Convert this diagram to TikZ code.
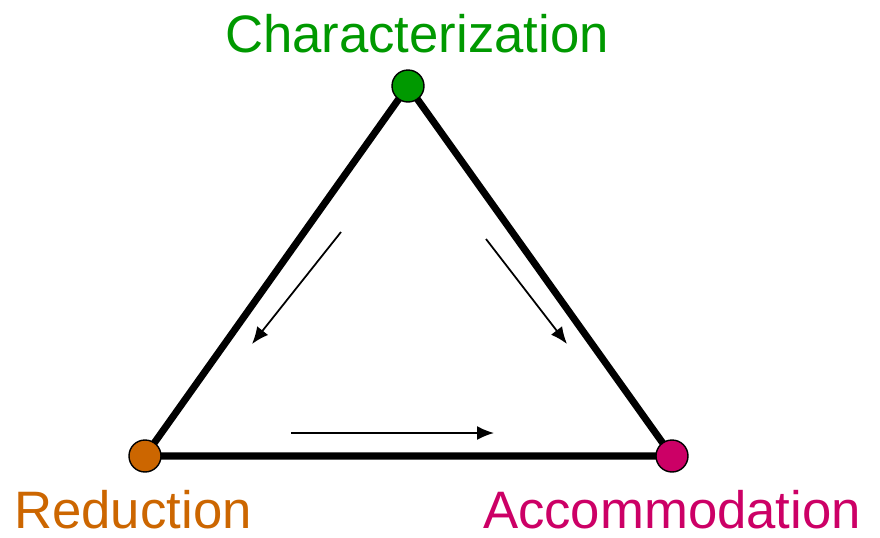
\documentclass[tikz,border=0pt]{standalone}
\usepackage{fontspec}
\setmainfont{Liberation Sans}
\usetikzlibrary{positioning, arrows.meta, backgrounds}
\definecolor{chargreen}{RGB}{0,153,0}
\definecolor{redorange}{RGB}{204,102,0}
\definecolor{accmagenta}{RGB}{204,0,102}

\begin{document}
\begin{tikzpicture}[
  x=0.02cm, y=-0.02cm,
  every node/.style={font=\fontsize{30}{36}\selectfont},
  vtx/.style={circle, draw=black, line width=0.8pt, minimum size=0.64cm, inner sep=0pt},
  lbl/.style={anchor=base, inner sep=0pt},
  side/.style={line width=4pt},
  flow/.style={-{Latex[length=3.4mm, width=2.8mm]}, line width=1pt},
]
\useasboundingbox (0,0) rectangle (880,538);

% Corners of the triangle
\node[vtx, fill=chargreen] (char) at (408,86) {};
\node[vtx, fill=redorange] (red) at (145,456) {};
\node[vtx, fill=accmagenta] (acc) at (672,456) {};

% Labels
\node[lbl, text=chargreen] (charlbl) at (417,52) {Characterization};
\node[lbl, text=redorange] (redlbl) at (133,528) {Reduction};
\node[lbl, text=accmagenta] (acclbl) at (672,528) {Accommodation};

% Sides
\begin{scope}[on background layer]
\draw[side] (char.center) -- (red.center) -- (acc.center) -- cycle;
\end{scope}

% Flow arrows
\coordinate (f1s) at (341,232);
\coordinate (f1e) at (252,344);
\coordinate (f2s) at (486,239);
\coordinate (f2e) at (567,344);
\coordinate (f3s) at (291,433);
\coordinate (f3e) at (494,433);
\draw[flow] (f1s) -- (f1e);
\draw[flow] (f2s) -- (f2e);
\draw[flow] (f3s) -- (f3e);
\end{tikzpicture}
\end{document}
